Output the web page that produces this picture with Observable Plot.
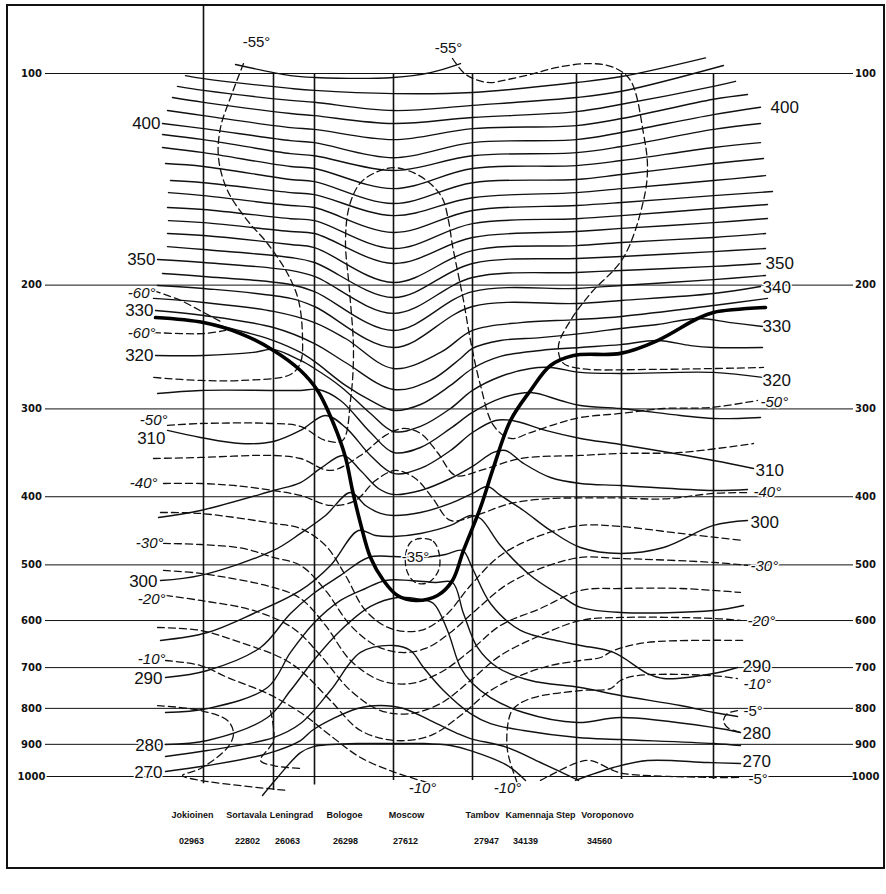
<!DOCTYPE html>
<html>
<head>
<meta charset="utf-8">
<script src="https://cdn.jsdelivr.net/npm/d3@7"></script>
<script src="https://cdn.jsdelivr.net/npm/@observablehq/plot@0.6"></script>
<style>
  body { margin: 0; background: white; }
  #chart { position: absolute; left: 0; top: 0; }
</style>
</head>
<body>
<div id="chart"></div>
<script>
// ---------- DATA ----------
// distance along the section (arbitrary units, Jokioinen = 0), pressure in hPa
const levels = [100, 200, 300, 400, 500, 600, 700, 800, 900, 1000];

const stationNames = ["Jokioinen", "Sortavala", "Leningrad", "Bologoe", "Moscow", "Tambov", "Kamennaja Step", "Voroponovo"];
const stationIds = ["02963", "22802", "26063", "26298", "27612", "27947", "34139", "34560"];
const stationDist = [0, 70, 111, 190, 269, 373, 418, 510];
const stationTop = [80, 100, 100, 100, 100, 100, 100, 100];
const stationBottom = [1024, 1047, 1028, 1013, 1013, 1010, 1010, 1010];
const nameDist = [-11, 43, 88, 141, 203, 279, 337, 404];
const idDist = [-12, 44, 84, 142, 202, 283, 322, 396];

// isentropes (K): [distance, hPa]
const th425 = [[32,97.1],[87,100.7],[111,101.3],[190,101.3],[227,99.7],[257,96.8]];
const th420 = [[-18,100.7],[0,101.7],[87,105.0],[111,105.7],[190,106.8],[269,106.4],[373,103.0],[418,101.0],[502,95.0]];
const th415 = [[-26,104.3],[0,105.7],[87,109.2],[111,109.9],[190,112.9],[269,111.0],[373,108.2],[418,106.0],[520,97.4]];
const th410 = [[-31,108.2],[0,109.9],[87,114.0],[111,114.8],[190,117.8],[269,115.5],[373,113.3],[418,110.6],[510,104.3],[532,102.6]];
const th405 = [[-36,112.9],[0,114.8],[87,119.4],[111,120.1],[190,124.2],[269,119.8],[373,118.6],[418,115.9],[510,108.8],[544,107.1]];
const th400 = [[-41,117.8],[0,119.8],[87,124.6],[111,125.4],[190,131.8],[269,125.4],[373,124.2],[418,121.3],[510,114.4],[557,111.7]];
const th395 = [[-41,122.1],[0,124.2],[87,130.0],[111,130.9],[190,137.4],[269,130.9],[373,129.6],[418,127.0],[510,120.1],[557,117.8]];
const th390 = [[-41,127.4],[0,129.6],[87,135.6],[111,136.5],[190,145.8],[269,136.5],[373,135.2],[418,133.0],[510,127.4],[557,125.4]];
const th385 = [[-38,134.3],[0,135.6],[87,141.5],[111,142.5],[190,153.1],[269,143.0],[373,141.5],[418,139.2],[510,134.3],[560,132.1]];
const th380 = [[-33,142.0],[0,143.0],[87,147.7],[111,148.7],[190,159.3],[269,150.2],[373,147.7],[418,145.8],[510,142.0],[562,139.7]];
const th375 = [[-35,147.7],[0,149.2],[87,154.1],[111,155.1],[190,168.3],[269,156.6],[373,154.1],[418,152.6],[510,149.2],[569,147.2]];
const th370 = [[-36,155.1],[0,156.1],[87,160.9],[111,161.9],[190,177.4],[269,163.5],[373,160.9],[418,159.3],[510,155.6],[564,153.6]];
const th365 = [[-35,161.9],[0,163.0],[87,167.8],[111,168.9],[190,186.3],[269,171.1],[373,167.8],[418,166.1],[510,163.0],[564,160.8]];
const th360 = [[-36,168.9],[0,170.0],[87,175.1],[111,176.9],[190,198.3],[269,178.6],[373,175.7],[418,173.9],[510,171.1],[562,168.9]];
const th355 = [[-36,176.3],[0,178.0],[87,182.7],[111,185.7],[190,208.3],[269,186.3],[373,183.3],[418,182.1],[510,179.2],[562,177.4]];
const th350 = [[-46,183.9],[0,185.7],[87,190.6],[111,194.4],[190,219.4],[269,195.1],[373,191.9],[418,190.6],[510,188.1],[557,186.3]];
const th345 = [[-41,192.5],[0,194.4],[87,199.6],[111,204.3],[190,232.0],[269,204.3],[373,202.2],[418,200.2],[510,196.4],[562,193.8]];
const th340 = [[-46,200.2],[0,202.2],[87,208.9],[111,214.5],[190,245.3],[269,214.5],[373,212.4],[418,210.3],[510,205.6],[557,200.9]];
const th335 = [[-50,208.9],[0,211.7],[70,218.0],[111,226.1],[142,238.2],[190,262.8],[237,249.3],[269,232.0],[317,226.1],[373,223.9],[418,221.6],[510,213.8],[564,208.9]];
const th330 = [[-48,217.3],[0,220.9],[70,229.8],[111,242.2],[142,257.7],[190,281.5],[227,273.3],[257,254.3],[269,246.1],[297,239.8],[337,237.5],[377,234.4],[417,230.5],[454,227.5],[494,223.1],[527,226.1],[559,229.0]];
const th325 = [[12,227.5],[47,234.4],[70,239.8],[97,249.3],[111,256.8],[142,277.8],[167,291.8],[190,301.5],[217,295.7],[247,277.8],[269,262.8],[297,252.6],[337,247.7],[377,245.3],[417,243.0],[454,239.8],[487,243.8],[510,245.3],[559,245.3]];
const th320 = [[-48,251.8],[0,251.8],[50,249.3],[70,246.9],[97,256.0],[111,262.8],[137,278.7],[167,304.5],[190,323.0],[217,317.7],[247,299.6],[269,282.4],[297,269.8],[327,262.8],[347,261.9],[377,266.2],[417,267.1],[510,266.2],[559,270.6]];
const th315 = [[-46,285.2],[-3,282.4],[70,282.4],[97,282.4],[115,281.5],[137,291.8],[167,324.1],[190,346.0],[217,340.4],[247,319.8],[269,303.5],[297,289.9],[327,284.3],[357,291.8],[377,296.7],[417,299.6],[477,306.5],[510,309.6],[557,308.5]];
const th310 = [[-36,321.9],[-3,329.4],[37,336.0],[70,333.8],[97,321.9],[122,306.5],[142,318.7],[167,349.4],[190,370.6],[217,364.6],[247,343.8],[269,324.1],[292,311.6],[309,311.6],[342,321.9],[377,330.5],[417,337.1],[510,355.2],[550,364.6]];
const th305 = [[-45,428.1],[-3,418.4],[70,391.9],[97,381.8],[117,364.6],[140,349.4],[157,367.0],[175,389.3],[190,397.0],[217,391.9],[247,376.8],[269,362.2],[290,346.0],[302,343.8],[320,358.6],[347,375.6],[377,383.0],[417,385.5],[510,391.9],[544,390.6]];
const th300 = [[-43,526.2],[-3,517.6],[70,476.9],[97,451.1],[122,425.3],[147,394.5],[162,411.6],[177,422.5],[190,425.3],[217,421.2],[247,408.9],[269,395.7],[284,386.8],[297,398.3],[320,418.4],[347,446.7],[377,472.3],[417,481.6],[460,472.3],[510,439.4],[544,432.3]];
const th295 = [[-43,640.4],[4,623.9],[50,586.3],[97,543.7],[127,500.9],[155,446.7],[172,454.1],[190,455.6],[217,451.1],[247,439.4],[267,425.3],[277,429.5],[297,469.2],[327,517.6],[357,552.7],[377,574.8],[417,584.3],[510,580.5],[540,571.1]];
const th290 = [[-38,723.1],[4,706.6],[57,655.3],[87,586.3],[110,549.1],[137,517.6],[165,488.0],[190,486.4],[217,488.0],[242,483.2],[259,476.9],[269,505.9],[287,567.4],[317,619.8],[357,642.5],[377,651.0],[410,666.1],[444,713.7],[460,725.5],[510,713.7],[534,699.8]];
const th285 = [[-38,811.0],[4,800.4],[64,747.2],[87,666.1],[110,605.8],[137,561.8],[162,540.2],[182,526.2],[207,526.2],[232,529.7],[249,529.7],[260,586.3],[274,655.3],[294,699.8],[327,730.2],[377,747.2],[417,767.1],[477,792.6],[510,811.0],[534,821.7]];
const th280 = [[-38,900.6],[4,888.9],[64,824.4],[87,754.6],[110,683.9],[137,619.8],[167,572.9],[194,556.3],[217,559.9],[230,567.4],[244,619.8],[257,699.8],[269,737.5],[287,772.1],[320,811.0],[374,838.0],[417,824.4],[510,851.8],[537,865.9]];
const th275 = [[-38,936.7],[4,918.5],[70,880.2],[97,840.8],[127,754.6],[157,666.1],[190,651.0],[207,661.8],[220,699.8],[240,754.6],[267,813.7],[287,840.8],[320,860.2],[374,880.2],[417,886.0],[510,897.7],[537,903.6]];
const th270 = [[-38,983.8],[4,964.7],[64,927.6],[97,888.9],[110,857.4],[154,800.4],[177,792.6],[200,800.4],[227,832.5],[254,868.7],[267,883.1],[304,909.5],[337,955.2],[375,1013]];
const th270b = [[372,1013],[410,971.0],[444,949.0],[504,955.2],[537,958.3]];
const th265 = [[59,1064],[74,1003],[97,924.6],[110,906.6],[154,897.7],[189,897.7],[220,897.7],[247,903.6],[267,918.5],[304,964.7],[322,1013]];

// tropopause (thick line)
const tropopause = [[-48,222.4],[0,226.1],[37,234.4],[70,247.7],[97,264.5],[114,282.4],[130,314.7],[142,351.7],[149,391.9],[157,436.5],[167,488.0],[180,526.2],[194,552.7],[212,561.8],[234,552.7],[249,526.2],[260,476.9],[277,414.3],[290,363.4],[307,311.6],[327,282.4],[347,260.2],[370,251.8],[417,250.1],[454,239.8],[494,223.1],[510,218.7],[562,215.2]];

// isotherms (°C, dashed)
const t55L = [[40,96.8],[27,108.2],[17,119.4],[15,131.8],[24,146.7],[44,161.9],[64,174.5],[84,192.5],[95,210.3],[99,237.5],[97,257.7],[87,268.0],[37,273.3],[-3,273.3],[-50,270.6]];
const t55R = [[249,95.2],[260,99.7],[272,102.0],[287,103.0],[304,102.0],[327,100.3],[354,98.0],[387,96.8],[410,98.0],[427,102.3],[440,121.7],[444,136.1],[440,151.6],[420,182.7],[387,205.6],[367,224.6],[355,243.8],[359,257.7],[377,262.8],[447,263.6],[560,261.9]];
const t60a = [[-50,203.6],[-23,210.3],[0,218.7],[19,226.1]];
const t60b = [[-50,233.6],[0,234.4],[22,232.0]];
const t50 = [[-36,316.7],[-3,314.7],[70,314.7],[97,317.7],[122,332.7],[139,332.7],[147,291.8],[150,247.7],[146,203.6],[142,172.8],[146,154.1],[157,143.0],[174,137.9],[190,136.1],[210,138.4],[227,143.5],[239,150.6],[245,161.9],[249,175.7],[255,193.8],[260,210.3],[267,239.8],[277,277.8],[290,316.7],[307,330.5],[327,324.1],[354,314.7],[377,308.5],[417,304.5],[460,299.6],[507,298.6],[554,291.8]];
const t45 = [[-50,352.9],[-3,351.7],[70,349.4],[97,352.9],[127,367.0],[157,349.4],[182,327.2],[200,319.8],[217,325.0],[234,346.0],[252,373.1],[277,367.0],[317,352.9],[377,349.4],[417,347.1],[477,346.0],[550,336.0]];
const t40 = [[-40,383.0],[-3,383.0],[30,385.5],[70,391.9],[97,398.3],[127,411.6],[152,404.9],[172,379.3],[192,367.0],[212,376.8],[229,401.6],[247,432.3],[272,425.3],[307,408.9],[347,402.3],[377,401.6],[417,401.6],[460,402.9],[510,395.7],[544,394.5]];
const t35loop = [[217,458.6],[230,463.1],[236,484.8],[235,509.2],[225,529.7],[212,529.7],[204,512.6],[202,484.8],[207,464.6]];
const t35 = [[-43,421.2],[-3,422.5],[70,436.5],[97,443.9],[122,469.2],[142,517.6],[162,580.5],[187,615.8],[217,619.8],[242,590.1],[267,534.9],[297,484.8],[337,454.1],[377,439.4],[417,440.9],[477,451.1],[540,461.6]];
const t30 = [[-40,466.1],[-3,467.7],[40,473.8],[70,488.0],[97,500.9],[122,543.7],[147,609.7],[172,651.0],[197,666.1],[222,657.5],[247,623.9],[272,580.5],[302,534.9],[337,505.9],[377,488.0],[417,489.6],[510,496.0],[544,500.9]];
const t25 = [[-40,509.2],[-3,514.2],[70,538.4],[97,558.2],[122,609.7],[147,683.9],[177,730.2],[207,737.5],[237,711.3],[267,661.8],[297,609.7],[337,576.7],[377,543.7],[417,540.2],[477,540.2],[537,547.3]];
const t20 = [[-38,552.7],[-3,561.8],[50,580.5],[90,615.8],[117,672.7],[147,754.6],[177,805.7],[207,813.7],[237,787.4],[267,730.2],[297,672.7],[337,630.0],[377,599.8],[417,594.0],[510,595.9],[537,599.8]];
const t15 = [[-46,613.8],[-3,619.8],[37,644.6],[77,677.2],[97,706.6],[127,779.7],[157,860.2],[192,888.9],[227,874.5],[257,819.0],[287,754.6],[317,718.4],[347,695.2],[377,683.9],[397,677.2],[410,661.8],[444,644.6],[540,640.4]];
const t10L = [[-38,683.9],[-3,695.2],[24,723.1],[64,762.1],[97,811.0],[127,874.5],[157,939.8],[192,987.1],[227,1023]];
const t10R = [[314,1023],[304,918.5],[305,832.5],[310,800.4],[327,774.6],[377,754.6],[407,749.7],[417,730.2],[434,718.4],[507,718.4],[534,725.5]];
const t5L = [[-46,792.6],[-3,805.7],[24,832.5],[30,868.7],[24,909.5],[-3,974.2],[-21,996.7],[-3,1013],[84,1046.9]];
const t5b = [[67,805.7],[70,888.9],[57,949.0],[70,964.7],[97,974.2]];
const t5Rhook = [[534,805.7],[524,813.7],[520,832.5],[524,851.8],[537,865.9]];
const t5R = [[337,1013],[374,955.2],[387,949.0],[410,980.6],[420,990.3],[504,1003],[537,1003]];

// labels: [text, distance, hPa]
const leftThetaLabels = [["400",-43,117.8],["350",-48,183.9],["330",-50,217.3],["320",-50,251.8],["310",-38,330.5],["300",-46,527.9],["290",-41,725.5],["280",-40,903.6],["270",-41,987.1]];
const rightThetaLabels = [["400",567,111.7],["350",562,186.3],["340",559,201.6],["330",559,229.0],["320",559,273.3],["310",552,367.0],["300",547,435.2],["290",539,697.5],["280",539,868.7],["270",539,952.1]];
const leftTempLabels = [["-60°",-48,205.6],["-60°",-48,234.4],["-50°",-36,311.6],["-40°",-46,383.0],["-30°",-40,466.1],["-20°",-38,559.9],["-10°",-38,681.7]];
const rightTempLabels = [["-50°",557,293.8],["-40°",550,394.5],["-30°",547,502.5],["-20°",544,601.8],["-10°",540,739.9]];
const rightTempLabelsUpright = [["-5°",540,808.4],["-5°",545,1010]];
const midTempLabels = [["-10°",219,1040],["-10°",304,1040]];
const midTempLabelsUpright = [["-55°",53,90.3],["-55°",245,92.1],["-35°",212,488]];

// ---------- BUILD ----------
const rows = (sets) => sets.flatMap(([id, arr]) => arr.map(([x, p]) => ({id, x, p})));
const isentropes = rows([
  [425, th425],[420, th420],[415, th415],[410, th410],[405, th405],[400, th400],[395, th395],[390, th390],
  [385, th385],[380, th380],[375, th375],[370, th370],[365, th365],[360, th360],[355, th355],[350, th350],
  [345, th345],[340, th340],[335, th335],[330, th330],[325, th325],[320, th320],[315, th315],[310, th310],
  [305, th305],[300, th300],[295, th295],[290, th290],[285, th285],[280, th280],[275, th275],[270, th270],
  ["270b", th270b],[265, th265]
]);
const isotherms = rows([
  ["55L", t55L],["55R", t55R],["60a", t60a],["60b", t60b],["50", t50],["45", t45],["40", t40],
  ["35", t35],["30", t30],["25", t25],["20", t20],["15", t15],["10L", t10L],["10R", t10R],
  ["5L", t5L],["5b", t5b],["5Rh", t5Rhook],["5R", t5R]
]);
const tp = tropopause.map(([x, p]) => ({x, p}));
const loop35 = t35loop.map(([x, p]) => ({x, p}));
const stations = stationNames.map((name, i) => ({
  name, id: stationIds[i], dist: stationDist[i], top: stationTop[i], bottom: stationBottom[i],
  nameX: nameDist[i], idX: idDist[i]
}));
const lab = (arr) => arr.map(([t, x, p]) => ({t, x, p}));

const numFont = "Liberation Sans, Arial, sans-serif";
const smallFont = "DejaVu Sans, Verdana, sans-serif";
const halo = {fill: "#111", stroke: "white", strokeWidth: 3};

const chart = Plot.plot({
  width: 886,
  height: 894,
  marginLeft: 203,
  marginRight: 173,
  marginTop: 73,
  marginBottom: 118,
  x: {domain: [0, 510], axis: null},
  y: {type: "log", domain: [1000, 100], axis: null},
  style: {background: "white", overflow: "visible"},
  marks: [
    Plot.ruleY(levels, {y: d => d, x1: () => -158, x2: () => 650, stroke: "#111", strokeWidth: 1}),
    Plot.ruleX(stations, {x: "dist", y1: "top", y2: "bottom", stroke: "#111", strokeWidth: 1.6}),
    Plot.line(isotherms, {x: "x", y: "p", z: "id", curve: "catmull-rom", stroke: "#111", strokeWidth: 1.3, strokeDasharray: "7,4"}),
    Plot.line(loop35, {x: "x", y: "p", curve: "catmull-rom-closed", stroke: "#111", strokeWidth: 1.3, strokeDasharray: "6,4"}),
    Plot.line(isentropes, {x: "x", y: "p", z: "id", curve: "catmull-rom", stroke: "#111", strokeWidth: 1.4}),
    Plot.line(tp, {x: "x", y: "p", curve: "catmull-rom", stroke: "#000", strokeWidth: 3.6}),
    Plot.text(levels, {y: d => d, frameAnchor: "left", dx: -172, text: d => String(d), textAnchor: "middle",
      fontSize: 10, fontWeight: "bold", fontFamily: smallFont, ...halo}),
    Plot.text(levels, {y: d => d, frameAnchor: "right", dx: 152, text: d => String(d), textAnchor: "middle",
      fontSize: 10, fontWeight: "bold", fontFamily: smallFont, ...halo}),
    Plot.text(lab(leftThetaLabels), {x: "x", y: "p", text: "t", textAnchor: "end", fontSize: 17, fontFamily: numFont, ...halo}),
    Plot.text(lab(rightThetaLabels), {x: "x", y: "p", text: "t", textAnchor: "start", fontSize: 17, fontFamily: numFont, ...halo}),
    Plot.text(lab(leftTempLabels), {x: "x", y: "p", text: "t", textAnchor: "end", fontSize: 15, fontStyle: "italic",
      fontFamily: numFont, ...halo}),
    Plot.text(lab(rightTempLabels), {x: "x", y: "p", text: "t", textAnchor: "start", fontSize: 15, fontStyle: "italic",
      fontFamily: numFont, ...halo}),
    Plot.text(lab(rightTempLabelsUpright), {x: "x", y: "p", text: "t", textAnchor: "start", fontSize: 15,
      fontFamily: numFont, ...halo}),
    Plot.text(lab(midTempLabels), {x: "x", y: "p", text: "t", textAnchor: "middle", fontSize: 15, fontStyle: "italic",
      fontFamily: numFont, ...halo}),
    Plot.text(lab(midTempLabelsUpright), {x: "x", y: "p", text: "t", textAnchor: "middle", fontSize: 15,
      fontFamily: numFont, ...halo}),
    Plot.text(stations, {x: "nameX", frameAnchor: "bottom", dy: 41, text: "name", textAnchor: "middle",
      fontSize: 9, fontWeight: "bold", fontFamily: numFont, fill: "#111"}),
    Plot.text(stations, {x: "idX", frameAnchor: "bottom", dy: 67, text: "id", textAnchor: "middle",
      fontSize: 9, fontWeight: "bold", fontFamily: numFont, fill: "#111"})
  ]
});

document.getElementById("chart").appendChild(chart);

// outer border of the figure
d3.select(chart).append("rect")
  .attr("x", 7).attr("y", 5).attr("width", 877).attr("height", 863)
  .attr("fill", "none").attr("stroke", "#111").attr("stroke-width", 2);
</script>
</body>
</html>
